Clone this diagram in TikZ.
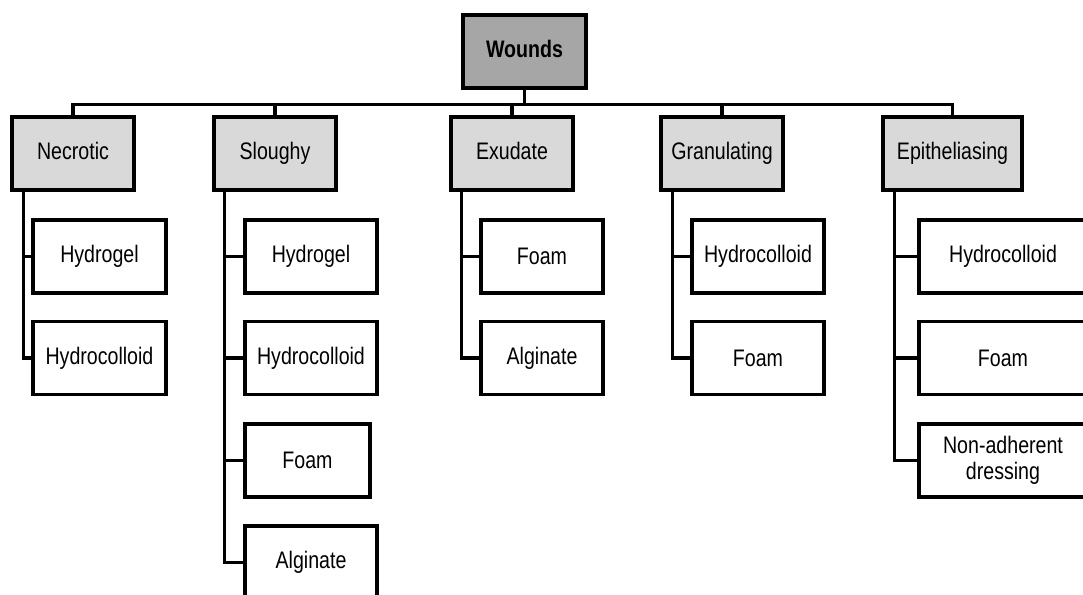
\documentclass[tikz,border=0pt]{standalone}
\usepackage{fontspec}
\setmainfont{Liberation Sans}[FakeStretch=0.82]
\usetikzlibrary{positioning,calc}

\begin{document}
\begin{tikzpicture}[
    wound/.style={rectangle, draw=black, line width=1.8pt, fill=wroot, minimum width=2.46cm, minimum height=1.46cm, text height=1.6ex, text depth=0.4ex, font=\fontsize{13.6}{14.5}\selectfont\bfseries},
    stage/.style={rectangle, draw=black, line width=1.8pt, fill=wstage, minimum width=2.44cm, minimum height=1.46cm, text height=1.6ex, text depth=0.4ex, font=\fontsize{13.6}{14.5}\selectfont},
    dressing/.style={rectangle, draw=black, line width=1.8pt, fill=white, minimum width=2.64cm, minimum height=1.46cm, align=center, font=\fontsize{13.6}{14.5}\selectfont},
    link/.style={draw=black, line width=1.8pt}
]
\definecolor{wroot}{HTML}{A6A6A6}
\definecolor{wstage}{HTML}{D9D9D9}

\useasboundingbox (0,0) rectangle (21.66,11.88);

% Root
\node[wound] (wounds) at (10.49, 10.85) {Wounds};

% Wound stages
\node[stage] (necrotic) at (1.46, 8.81) {Necrotic};
\node[stage] (sloughy) at (5.50, 8.81) {Sloughy};
\node[stage] (exudate) at (10.24, 8.81) {Exudate};
\node[stage] (granulating) at (14.44, 8.81) {Granulating};
\node[stage, minimum width=2.78cm] (epithelial) at (19.05, 8.81) {Epitheliasing};

% Necrotic dressings
\node[dressing, minimum width=2.66cm] (necgel) at (1.99, 6.75) {Hydrogel};
\node[dressing, minimum width=2.66cm] (neccolloid) at (1.99, 4.72) {Hydrocolloid};

% Sloughy dressings
\node[dressing] (slogel) at (6.22, 6.75) {Hydrogel};
\node[dressing] (slocolloid) at (6.22, 4.72) {Hydrocolloid};
\node[dressing, minimum width=2.50cm] (slofoam) at (6.15, 2.67) {Foam};
\node[dressing] (sloalginate) at (6.22, 0.63) {Alginate};

% Exudate dressings
\node[dressing, minimum width=2.44cm] (exufoam) at (10.84, 6.75) {Foam};
\node[dressing, minimum width=2.44cm] (exualginate) at (10.84, 4.72) {Alginate};

% Granulating dressings
\node[dressing] (grancolloid) at (15.16, 6.75) {Hydrocolloid};
\node[dressing] (granfoam) at (15.16, 4.72) {Foam};

% Epitheliasing dressings
\node[dressing, minimum width=3.36cm] (epicolloid) at (20.06, 6.75) {Hydrocolloid};
\node[dressing, minimum width=3.36cm] (epifoam) at (20.06, 4.72) {Foam};
\node[dressing, minimum width=3.36cm] (epinonadh) at (20.06, 2.67) {Non-adherent\\dressing};

% Root to stages
\draw[link] (wounds.south) -- ++(0,-0.30) -| (necrotic.north);
\draw[link] (wounds.south) -- ++(0,-0.30) -| (sloughy.north);
\draw[link] (wounds.south) -- ++(0,-0.30) -| (exudate.north);
\draw[link] (wounds.south) -- ++(0,-0.30) -| (granulating.north);
\draw[link] (wounds.south) -- ++(0,-0.30) -| (epithelial.north);

% Stages to dressings
\draw[link] ([xshift=0.26cm]necrotic.south west) |- (necgel.west);
\draw[link] ([xshift=0.26cm]necrotic.south west) |- (neccolloid.west);
\draw[link] ([xshift=0.24cm]sloughy.south west) |- (slogel.west);
\draw[link] ([xshift=0.24cm]sloughy.south west) |- (slocolloid.west);
\draw[link] ([xshift=0.24cm]sloughy.south west) |- (slofoam.west);
\draw[link] ([xshift=0.24cm]sloughy.south west) |- (sloalginate.west);
\draw[link] ([xshift=0.24cm]exudate.south west) |- (exufoam.west);
\draw[link] ([xshift=0.24cm]exudate.south west) |- (exualginate.west);
\draw[link] ([xshift=0.26cm]granulating.south west) |- (grancolloid.west);
\draw[link] ([xshift=0.26cm]granulating.south west) |- (granfoam.west);
\draw[link] ([xshift=0.26cm]epithelial.south west) |- (epicolloid.west);
\draw[link] ([xshift=0.26cm]epithelial.south west) |- (epifoam.west);
\draw[link] ([xshift=0.26cm]epithelial.south west) |- (epinonadh.west);

\end{tikzpicture}
\end{document}
